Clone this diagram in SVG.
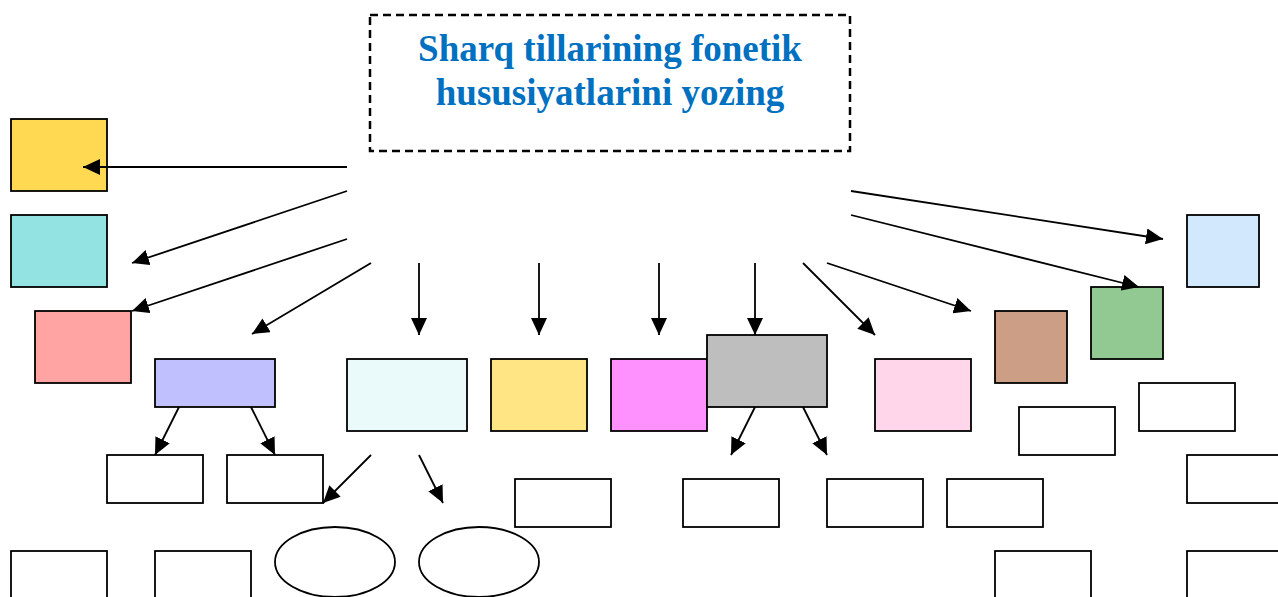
<svg xmlns="http://www.w3.org/2000/svg" width="1278" height="597" viewBox="0 0 1278 597">
<style>
.n{stroke:#000;stroke-width:1.8}
.w{fill:#fff;stroke:#000;stroke-width:1.8}
.c line{stroke:#000;stroke-width:1.8;marker-end:url(#ah)}
.t{font-family:"Liberation Serif","Times New Roman",serif;font-weight:bold;font-size:37px;fill:#0070C0;text-anchor:middle}
</style>
<defs>
<marker id="ah" markerUnits="userSpaceOnUse" markerWidth="17" markerHeight="16" refX="17" refY="8" orient="auto">
<path d="M0,0 L17,8 L0,16 z" fill="#000"/>
</marker>
</defs>
<rect width="1278" height="597" fill="#fff"/>
<g id="title">
<rect x="370" y="15" width="480" height="136" fill="#fff" stroke="#000" stroke-width="2.5" stroke-dasharray="8,5"/>
<text class="t" x="610" y="61">Sharq tillarining fonetik</text>
<text class="t" x="610" y="105">hususiyatlarini yozing</text>
</g>
<g id="n1"><rect class="n" x="11" y="119" width="96" height="72" fill="#FFD952"/></g>
<g id="n2"><rect class="n" x="11" y="215" width="96" height="72" fill="#94E3E3"/></g>
<g id="n3"><rect class="n" x="35" y="311" width="96" height="72" fill="#FFA3A3"/></g>
<g id="n4"><rect class="n" x="155" y="359" width="120" height="48" fill="#C0C0FF"/></g>
<g id="n5"><rect class="n" x="347" y="359" width="120" height="72" fill="#EAFAFA"/></g>
<g id="n6"><rect class="n" x="491" y="359" width="96" height="72" fill="#FFE583"/></g>
<g id="n7"><rect class="n" x="611" y="359" width="96" height="72" fill="#FF91FF"/></g>
<g id="n8"><rect class="n" x="707" y="335" width="120" height="72" fill="#BEBEBE"/></g>
<g id="n9"><rect class="n" x="875" y="359" width="96" height="72" fill="#FFD6EA"/></g>
<g id="n10"><rect class="n" x="995" y="311" width="72" height="72" fill="#CC9E86"/></g>
<g id="n11"><rect class="n" x="1091" y="287" width="72" height="72" fill="#92C892"/></g>
<g id="n12"><rect class="n" x="1187" y="215" width="72" height="72" fill="#D2E8FC"/></g>
<g id="w1"><rect class="w" x="107" y="455" width="96" height="48"/></g>
<g id="w2"><rect class="w" x="227" y="455" width="96" height="48"/></g>
<g id="w3"><rect class="w" x="515" y="479" width="96" height="48"/></g>
<g id="w4"><rect class="w" x="683" y="479" width="96" height="48"/></g>
<g id="w5"><rect class="w" x="827" y="479" width="96" height="48"/></g>
<g id="w6"><rect class="w" x="947" y="479" width="96" height="48"/></g>
<g id="w7"><rect class="w" x="1019" y="407" width="96" height="48"/></g>
<g id="w8"><rect class="w" x="1139" y="383" width="96" height="48"/></g>
<g id="w9"><rect class="w" x="1187" y="455" width="96" height="48"/></g>
<g id="w10"><rect class="w" x="11" y="551" width="96" height="60"/></g>
<g id="w11"><rect class="w" x="155" y="551" width="96" height="60"/></g>
<g id="w12"><rect class="w" x="995" y="551" width="96" height="60"/></g>
<g id="w13"><rect class="w" x="1187" y="551" width="96" height="60"/></g>
<g id="e1"><ellipse class="w" cx="335" cy="562" rx="60" ry="35"/></g>
<g id="e2"><ellipse class="w" cx="479" cy="562" rx="60" ry="35"/></g>
<g id="connectors" class="c">
<line x1="347" y1="167" x2="83" y2="167"/>
<line x1="347" y1="191" x2="132" y2="263"/>
<line x1="347" y1="239" x2="132" y2="311"/>
<line x1="371" y1="263" x2="252" y2="334"/>
<line x1="419" y1="263" x2="419" y2="335"/>
<line x1="539" y1="263" x2="539" y2="335"/>
<line x1="659" y1="263" x2="659" y2="335"/>
<line x1="755" y1="263" x2="755" y2="335"/>
<line x1="803" y1="263" x2="875" y2="335"/>
<line x1="827" y1="263" x2="971" y2="311"/>
<line x1="851" y1="191" x2="1163" y2="239"/>
<line x1="851" y1="215" x2="1139" y2="287"/>
<line x1="179" y1="407" x2="155" y2="455"/>
<line x1="251" y1="407" x2="275" y2="455"/>
<line x1="371" y1="455" x2="323" y2="503"/>
<line x1="419" y1="455" x2="443" y2="503"/>
<line x1="755" y1="407" x2="731" y2="455"/>
<line x1="803" y1="407" x2="827" y2="455"/>
</g>
</svg>
